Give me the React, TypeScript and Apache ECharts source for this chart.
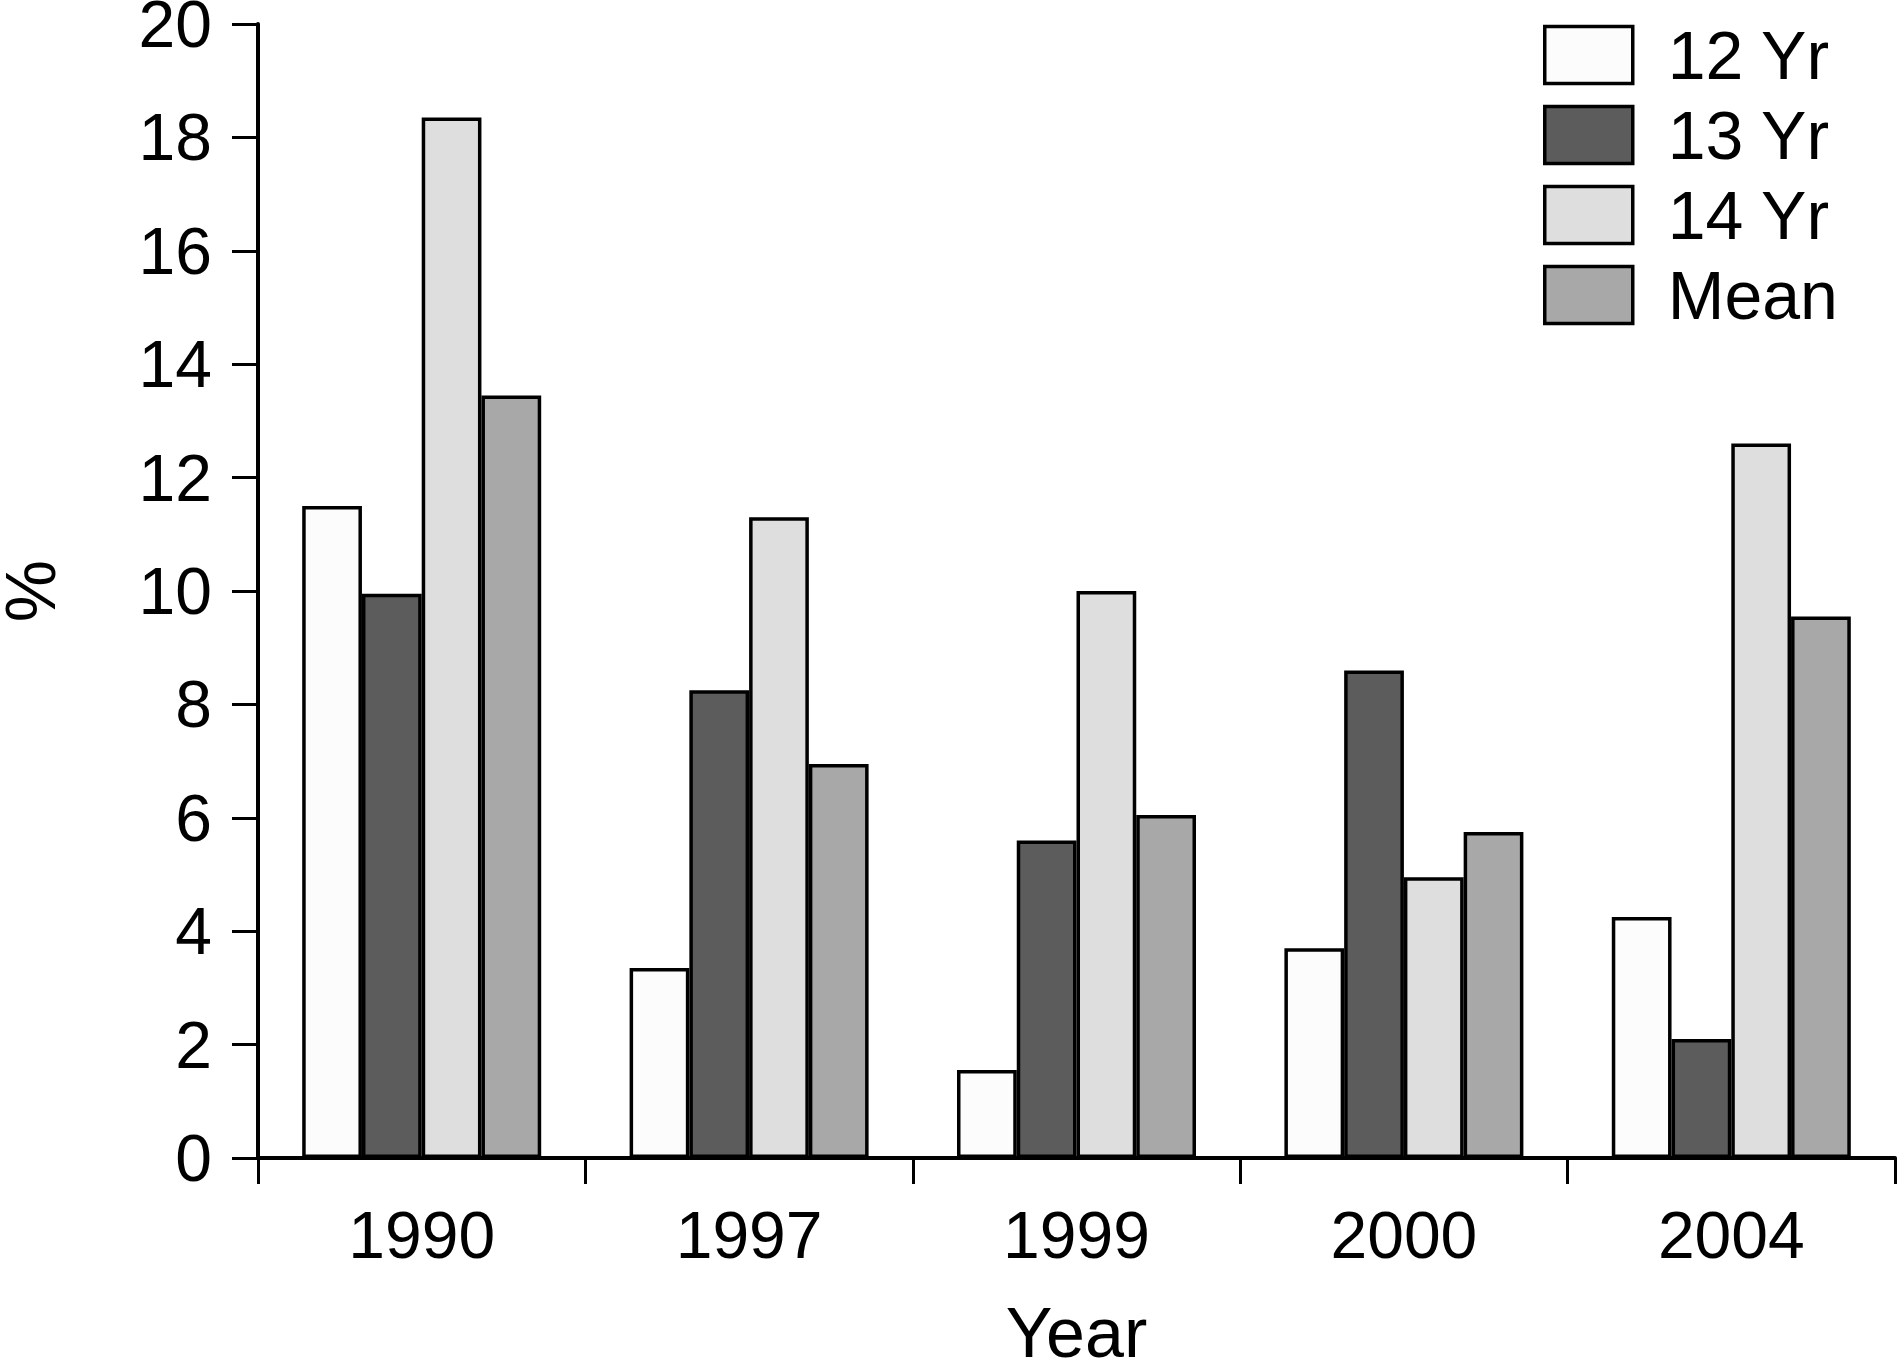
import React, { useEffect, useRef } from "react";
import * as echarts from "echarts";

const categories = ["1990", "1997", "1999", "2000", "2004"];
const seriesNames = ["12 Yr", "13 Yr", "14 Yr", "Mean"];
const yr12 = [11.5, 3.35, 1.55, 3.7, 4.25];
const yr13 = [9.95, 8.25, 5.6, 8.6, 2.1];
const yr14 = [18.35, 11.3, 10.0, 4.95, 12.6];
const mean = [13.45, 6.95, 6.05, 5.75, 9.55];
const colors = ["#fcfcfc", "#5c5c5c", "#dedede", "#a8a8a8"];
const yTicks = { min: 0, max: 20, interval: 2 };

const FONT = "Liberation Sans";

export default function App() {
  const ref = useRef<HTMLDivElement>(null);
  useEffect(() => {
    document.body.style.margin = "0";
    const chart = echarts.init(ref.current!, undefined, { renderer: "svg" });
    const values = [yr12, yr13, yr14, mean];
    chart.setOption({
      animation: false,
      backgroundColor: "#ffffff",
      textStyle: { fontFamily: FONT, color: "#000" },
      grid: {
        left: 258,
        right: 4,
        top: 24,
        bottom: 206,
        containLabel: false,
        outerBoundsMode: "none",
      },
      legend: {
        orient: "vertical",
        left: 1538,
        top: 16,
        itemWidth: 88,
        itemHeight: 57,
        itemGap: 12,
        icon: "rect",
        itemStyle: { borderColor: "#000", borderWidth: 3.5 },
        textStyle: {
          fontFamily: FONT,
          fontSize: 68,
          color: "#000",
          padding: [0, 0, 0, 30],
        },
        data: seriesNames,
      },
      xAxis: {
        type: "category",
        data: categories,
        name: "Year",
        nameLocation: "middle",
        nameGap: 140,
        nameTextStyle: { fontFamily: FONT, fontSize: 70, color: "#000" },
        axisLine: { lineStyle: { color: "#000", width: 4 } },
        axisTick: { show: true, length: 26, lineStyle: { color: "#000", width: 3 } },
        axisLabel: { fontFamily: FONT, fontSize: 66, color: "#000", margin: 44 },
      },
      yAxis: {
        type: "value",
        min: yTicks.min,
        max: yTicks.max,
        interval: yTicks.interval,
        name: "%",
        nameLocation: "middle",
        nameRotate: 90,
        nameGap: 192,
        nameTextStyle: { fontFamily: FONT, fontSize: 70, color: "#000" },
        axisLine: { show: true, lineStyle: { color: "#000", width: 4 } },
        axisTick: { show: true, length: 26, lineStyle: { color: "#000", width: 3 } },
        axisLabel: { fontFamily: FONT, fontSize: 66, color: "#000", margin: 46 },
        splitLine: { show: false },
      },
      series: seriesNames.map((name, i) => ({
        name,
        type: "bar",
        data: values[i],
        barGap: "0%",
        barCategoryGap: "27%",
        itemStyle: { color: colors[i], borderColor: "#000", borderWidth: 3.5 },
      })),
    });
    return () => chart.dispose();
  }, []);
  return <div ref={ref} style={{ width: 1899, height: 1364 }} />;
}
